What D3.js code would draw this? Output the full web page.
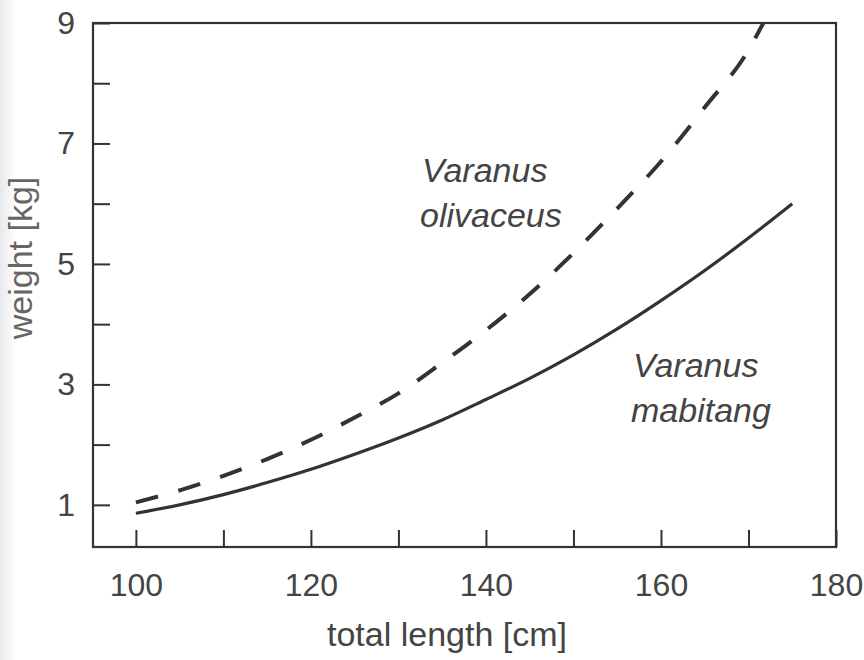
<!DOCTYPE html>
<html>
<head>
<meta charset="utf-8">
<script src="https://cdn.jsdelivr.net/npm/d3@7"></script>
<style>
  html, body { margin: 0; padding: 0; background: #fff; }
  svg { display: block; font-family: "Liberation Sans", Arial, sans-serif; }
</style>
</head>
<body>
<div class="svg-container"></div>
<script>
// values
const mabitangLength = [100, 105, 110, 115, 120, 125, 130, 135, 140, 145, 150, 155, 160, 165, 170, 175];
const mabitangWeight = [0.86, 1.0, 1.17, 1.37, 1.59, 1.84, 2.11, 2.41, 2.75, 3.1, 3.49, 3.92, 4.39, 4.89, 5.43, 6.0];

const olivaceusLength = [100, 105, 110, 115, 120, 125, 130, 135, 140, 145, 150, 155, 160, 165, 170, 171.7];
const olivaceusWeight = [1.04, 1.24, 1.48, 1.76, 2.08, 2.45, 2.85, 3.36, 3.9, 4.5, 5.18, 5.92, 6.7, 7.6, 8.55, 9.0];

const xTicks = [100, 110, 120, 130, 140, 150, 160, 170, 180];
const xTickLabels = ["100", "", "120", "", "140", "", "160", "", "180"];
const yTicks = [1, 2, 3, 4, 5, 6, 7, 8, 9];
const yTickLabels = ["1", "", "3", "", "5", "", "7", "", "9"];

const width = 864;
const height = 660;
const plotLeft = 93, plotRight = 836, plotTop = 23, plotBottom = 547;

const svg = d3.select(".svg-container").append("svg")
    .attr("width", width)
    .attr("height", height);

// faint grey strip of the scan at the left edge
const grad = svg.append("defs").append("linearGradient").attr("id", "edge");
grad.append("stop").attr("offset", "0%").attr("stop-color", "#e9e9ec");
grad.append("stop").attr("offset", "100%").attr("stop-color", "#ffffff");
svg.append("rect").attr("x", 0).attr("y", 0).attr("width", 16).attr("height", height)
    .attr("fill", "url(#edge)");

const xScale = d3.scaleLinear().domain([95.1, 180]).range([plotLeft, plotRight]);
const yScale = d3.scaleLinear().domain([0.3, 9]).range([plotBottom, plotTop]);

// y axis, ticks pointing inward
const yAxis = svg.append("g")
    .attr("transform", "translate(" + plotLeft + ",0)")
    .call(d3.axisLeft(yScale)
        .tickValues(yTicks)
        .tickSizeInner(-17)
        .tickSizeOuter(0)
        .tickPadding(18)
        .tickFormat((d, i) => yTickLabels[i]));

// x axis, ticks pointing inward
const xAxis = svg.append("g")
    .attr("transform", "translate(0," + plotBottom + ")")
    .call(d3.axisBottom(xScale)
        .tickValues(xTicks)
        .tickSizeInner(-17)
        .tickSizeOuter(0)
        .tickPadding(26)
        .tickFormat((d, i) => xTickLabels[i]));

[yAxis, xAxis].forEach(ax => {
    ax.select(".domain").remove();
    ax.selectAll("line").attr("stroke", "#333").attr("stroke-width", 2);
    ax.selectAll("text")
        .attr("fill", "#444")
        .style("font-size", "32px");
});
xAxis.selectAll("text").attr("dy", "0.71em");

// frame
svg.append("rect")
    .attr("x", plotLeft).attr("y", plotTop)
    .attr("width", plotRight - plotLeft).attr("height", plotBottom - plotTop)
    .attr("fill", "none")
    .attr("stroke", "#333")
    .attr("stroke-width", 2.2);

svg.append("clipPath").attr("id", "plot")
    .append("rect").attr("x", plotLeft).attr("y", plotTop)
    .attr("width", plotRight - plotLeft).attr("height", plotBottom - plotTop);

const line = d3.line()
    .x(d => xScale(d[0]))
    .y(d => yScale(d[1]))
    .curve(d3.curveMonotoneX);

svg.append("path")
    .datum(mabitangLength.map((l, i) => [l, mabitangWeight[i]]))
    .attr("clip-path", "url(#plot)")
    .attr("d", line)
    .attr("fill", "none")
    .attr("stroke", "#333")
    .attr("stroke-width", 3.2);

svg.append("path")
    .datum(olivaceusLength.map((l, i) => [l, olivaceusWeight[i]]))
    .attr("clip-path", "url(#plot)")
    .attr("d", line)
    .attr("fill", "none")
    .attr("stroke", "#333")
    .attr("stroke-width", 4)
    .attr("stroke-dasharray", "23 21");

// species labels
const labels = [
    { lines: ["Varanus", "olivaceus"], x: 422, y: 182 },
    { lines: ["Varanus", "mabitang"], x: 633, y: 377 }
];
labels.forEach(lb => {
    const t = svg.append("text")
        .attr("x", lb.x).attr("y", lb.y)
        .attr("fill", "#444")
        .style("font-size", "34px")
        .style("font-style", "italic");
    lb.lines.forEach((s, i) => {
        t.append("tspan").attr("x", lb.x + (i === 1 ? -2 : 0)).attr("dy", i === 0 ? 0 : 45).text(s);
    });
});

// axis titles
svg.append("text")
    .attr("x", 447)
    .attr("y", 646)
    .attr("text-anchor", "middle")
    .attr("fill", "#444")
    .style("font-size", "34px")
    .text("total length [cm]");

svg.append("text")
    .attr("transform", "translate(32,258) rotate(-90)")
    .attr("text-anchor", "middle")
    .attr("fill", "#666")
    .style("font-size", "34px")
    .text("weight [kg]");
</script>
</body>
</html>
